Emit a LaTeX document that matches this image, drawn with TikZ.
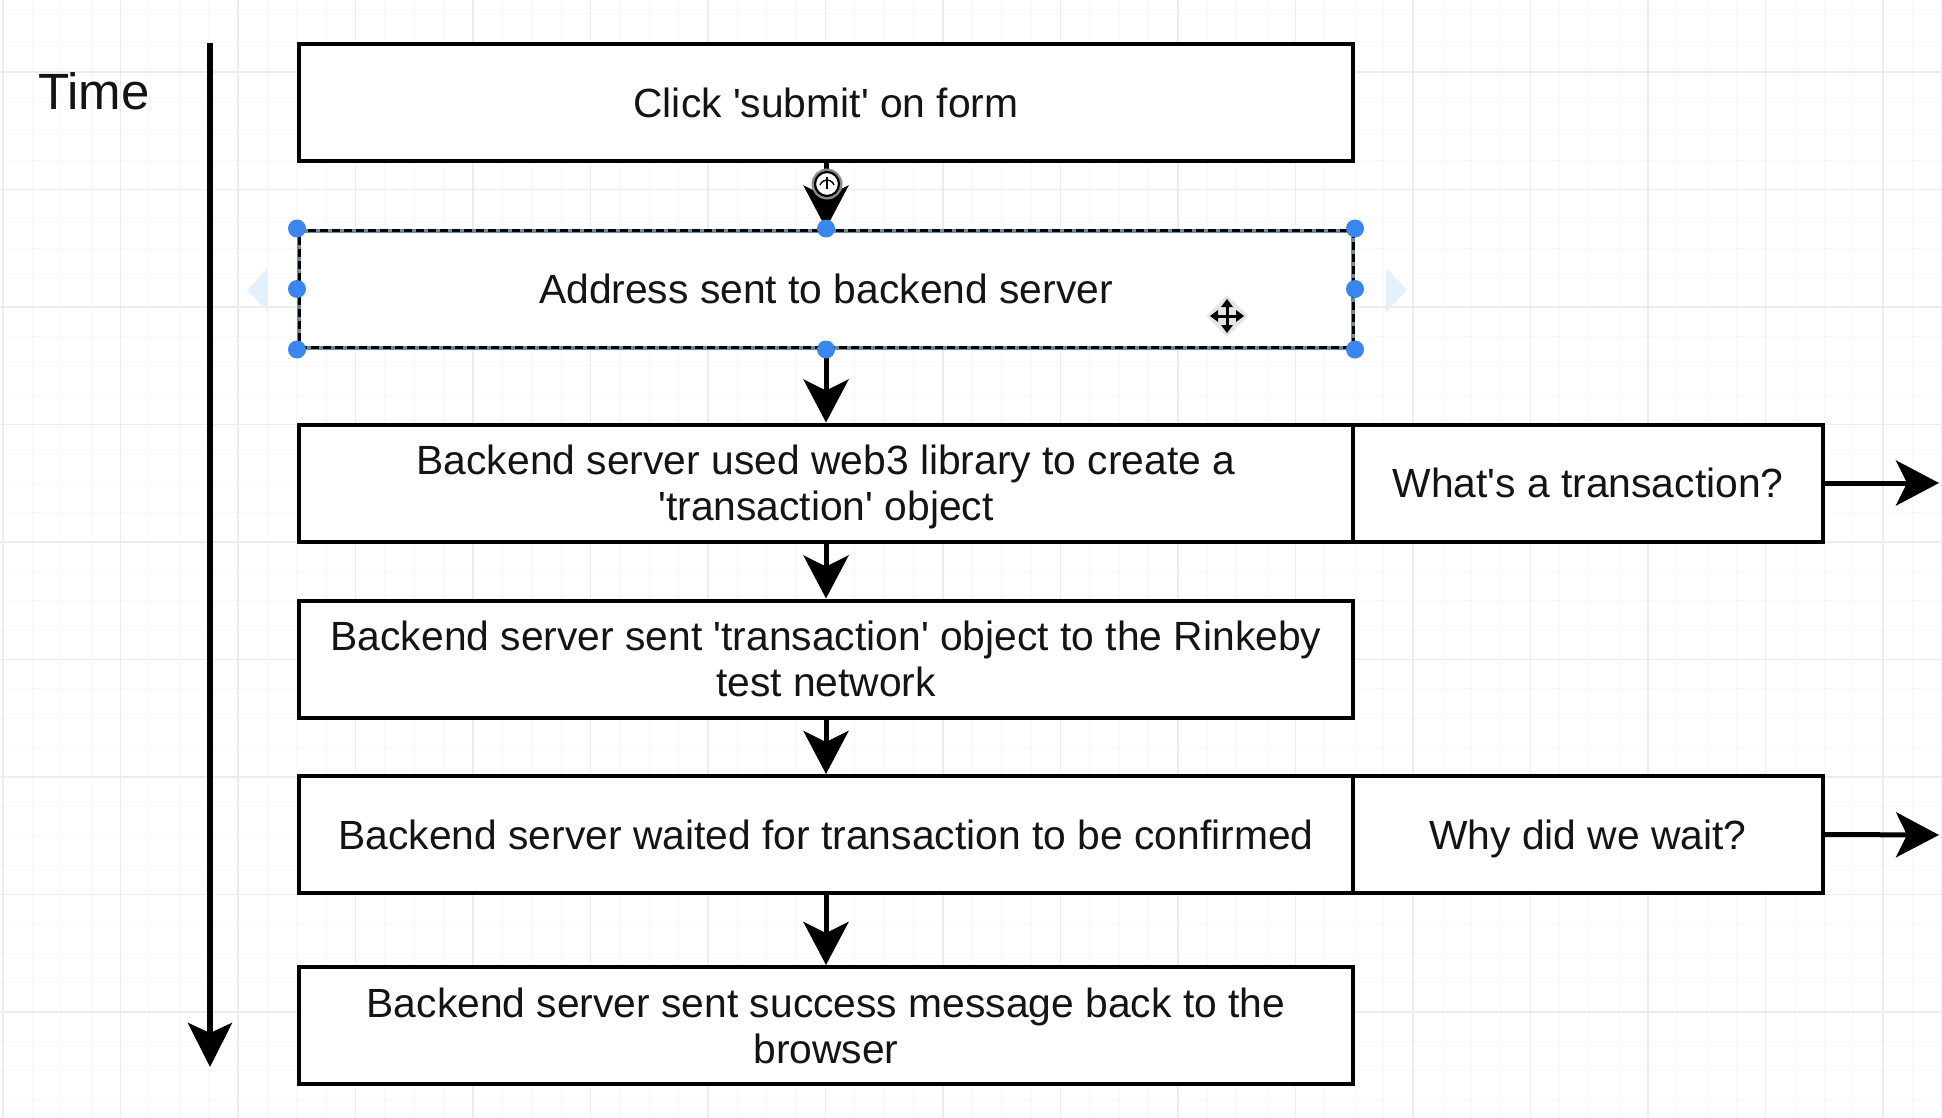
\documentclass[tikz,border=0pt]{standalone}
\usepackage{fontspec}
\setmainfont{Liberation Sans}
\usetikzlibrary{arrows.meta}
\definecolor{handleblue}{RGB}{58,134,238}
\definecolor{gridmajor}{RGB}{236,236,236}
\definecolor{gridminor}{RGB}{247,247,247}
\definecolor{hoverblue}{RGB}{228,240,252}
\definecolor{selbase}{RGB}{110,135,160}
\newcommand{\apos}{\textquotesingle}
\begin{document}
\begin{tikzpicture}[x=1pt,y=-1pt,
  box/.style={draw=black, line width=4pt, fill=white, minimum width=1054pt, minimum height=117pt, inner sep=0pt, align=center, font=\fontsize{40.8}{46}\selectfont, text=black!92, text depth=-5pt},
  sidebox/.style={box, minimum width=470pt},
  conn/.style={line width=5pt, -{Stealth[length=43pt,width=45pt,inset=11pt]}},
  timearrow/.style={line width=6pt, -{Stealth[length=44pt,width=44pt,inset=10pt]}},
  handle/.style={circle, fill=handleblue, minimum size=18pt, inner sep=0pt},
  minorline/.style={gridminor, line width=1pt},
  majorline/.style={gridmajor, line width=1.5pt},
]
\fill[white] (0,0) rectangle (1942,1118);
\useasboundingbox (0,0) rectangle (1942,1118);
% grid
\foreach \i in {0,...,66} {\draw[minorline] ({3+\i*29.375},0) -- ({3+\i*29.375},1118);}
\foreach \j in {0,...,37} {\draw[minorline] (0,{13.25+\j*29.375}) -- (1942,{13.25+\j*29.375});}
\foreach \i in {0,...,16} {\draw[majorline] ({3+\i*117.5},0) -- ({3+\i*117.5},1118);}
\foreach \j in {0,...,8} {\draw[majorline] (0,{72+\j*117.5}) -- (1942,{72+\j*117.5});}

% time axis
\node[anchor=base west, inner sep=0pt, font=\fontsize{51}{60}\selectfont, text=black!92] (time) at (38,110) {Time};
\coordinate (ttop) at (210,43);
\coordinate (tbot) at (210,1067);
\draw[timearrow] (ttop) -- (tbot);

% hover triangles
\fill[hoverblue] (247,290) -- (268,268) -- (268,312) -- cycle;
\fill[hoverblue] (1407,290) -- (1386,268) -- (1386,312) -- cycle;

% boxes
\node[box] (b1) at (826,102.5) {Click \apos{}submit\apos{} on form};
\node[box, draw=selbase, postaction={draw=black, line width=3pt, dash pattern=on 8pt off 4pt}] (b2) at (826,289) {Address sent to backend server};
\node[box] (b3) at (826,483) {Backend server used web3 library to create a\\\apos{}transaction\apos{} object};
\node[sidebox] (r3) at (1588,483) {What\apos{}s a transaction?};
\node[box] (b4) at (826,659) {Backend server sent \apos{}transaction\apos{} object to the Rinkeby\\test network};
\node[box] (b5) at (826,834.5) {Backend server waited for transaction to be confirmed};
\node[sidebox] (r5) at (1588,834.5) {Why did we wait?};
\node[box] (b6) at (826,1025.5) {Backend server sent success message back to the\\browser};

% connectors
\draw[conn] (b1.south) -- (b2.north);
\draw[conn] (b2.south) -- (b3.north);
\draw[conn] (b3.south) -- (b4.north);
\draw[conn] (b4.south) -- (b5.north);
\draw[conn] (b5.south) -- (b6.north);
\coordinate (r3end) at (1939,483);
\coordinate (r5end) at (1939,835);
\draw[conn] (r3.east) -- (r3end);
\draw[conn] (r5.east) -- (r5end);

% rotation / connection icon
\draw[line width=3pt, draw=black!45] (827,184) circle (14);
\draw[line width=2.2pt, fill=white] (827,184) circle (12);
\draw[line width=1.6pt] (827,177) -- (827,189);
\draw[line width=1.4pt] (820,185) arc (200:340:7.5);

% selection handles
\foreach \a in {north west,north,north east,west,east,south west,south,south east}
  {\node[handle] at (b2.\a) {};}

% move cursor
\begin{scope}[shift={(1227,316)}]
  \fill[black!10] (0,-21) -- (21,0) -- (0,21) -- (-21,0) -- cycle;
  \draw[line width=3pt] (-11,0) -- (11,0) (0,-11) -- (0,11);
  \fill (-17,0) -- (-9,-6) -- (-9,6) -- cycle;
  \fill (17,0) -- (9,-6) -- (9,6) -- cycle;
  \fill (0,-17) -- (-6,-9) -- (6,-9) -- cycle;
  \fill (0,17) -- (-6,9) -- (6,9) -- cycle;
\end{scope}
\end{tikzpicture}
\end{document}
